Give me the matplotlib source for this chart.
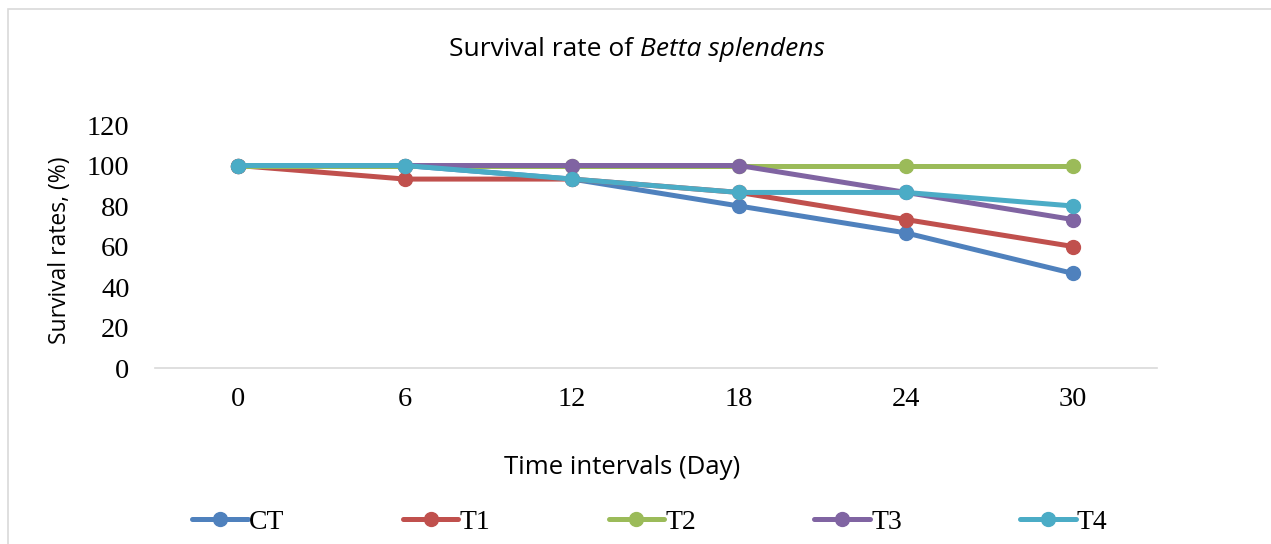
import numpy as np
import matplotlib.pyplot as plt
from matplotlib.patches import Rectangle

# survival data (%)
days = ['0', '6', '12', '18', '24', '30']
ct = [100, 100, 93.3, 80, 66.7, 46.7]
t1 = [100, 93.3, 93.3, 86.7, 73.3, 60]
t2 = [100, 100, 100, 100, 100, 100]
t3 = [100, 100, 100, 100, 86.7, 73.3]
t4 = [100, 100, 93.3, 86.7, 86.7, 80]

names = ['CT', 'T1', 'T2', 'T3', 'T4']
colors = ['#4F81BD', '#C0504D', '#9BBB59', '#8064A2', '#4BACC6']

serif = ['Liberation Serif', 'DejaVu Serif']
sans = ['Open Sans', 'DejaVu Sans']

fig = plt.figure(figsize=(12.71, 5.44), dpi=100)
# light chart-area frame
fig.patches.append(Rectangle((8 / 1271, -0.05), 1.1, (544 - 9) / 544 + 0.05,
                             transform=fig.transFigure, fill=False,
                             edgecolor='#D9D9D9', linewidth=1.2))

ax = fig.add_axes([0.1216, 0.3235, 0.7884, 0.4467])
x = np.arange(len(days))
for vals, name, c in zip([ct, t1, t2, t3, t4], names, colors):
    ax.plot(x, vals, '-o', color=c, lw=3.6, markersize=10, label=name,
            solid_capstyle='round')

ax.set_xlim(-0.5, len(days) - 0.5)
ax.set_ylim(0, 120)
ax.set_yticks(range(0, 121, 20))
ax.set_xticks(x)
ax.set_xticklabels(days)
for lab in ax.get_xticklabels() + ax.get_yticklabels():
    lab.set_family(serif)
    lab.set_fontsize(20.5)
    lab.set_color('#000000')
ax.tick_params(length=0)
ax.tick_params(axis='x', pad=14)
ax.tick_params(axis='y', pad=18)
for s in ['top', 'right', 'left']:
    ax.spines[s].set_visible(False)
ax.spines['bottom'].set_color('#D9D9D9')
ax.spines['bottom'].set_linewidth(1.2)

fig.text(640 / 1271, 1 - 50 / 544, 'Survival rate of ', family=sans,
         fontsize=19, ha='right', va='center')
fig.text(640 / 1271, 1 - 50 / 544, 'Betta splendens', family=sans,
         fontsize=19, ha='left', va='center', style='italic')
fig.text(60 / 1271, 1 - 250 / 544, 'Survival rates, (%)', family=sans,
         fontsize=16.5, rotation=90, ha='center', va='center')
fig.text(622 / 1271, 1 - 467 / 544, 'Time intervals (Day)', family=sans,
         fontsize=18.5, ha='center', va='center')

leg = fig.legend(loc='center', bbox_to_anchor=(650 / 1271, 22 / 544), ncol=5,
                 frameon=False, prop={'family': serif, 'size': 20},
                 handlelength=2.0, handletextpad=0.05, columnspacing=4.25,
                 numpoints=1)

fig.savefig('out.png', dpi=100)
